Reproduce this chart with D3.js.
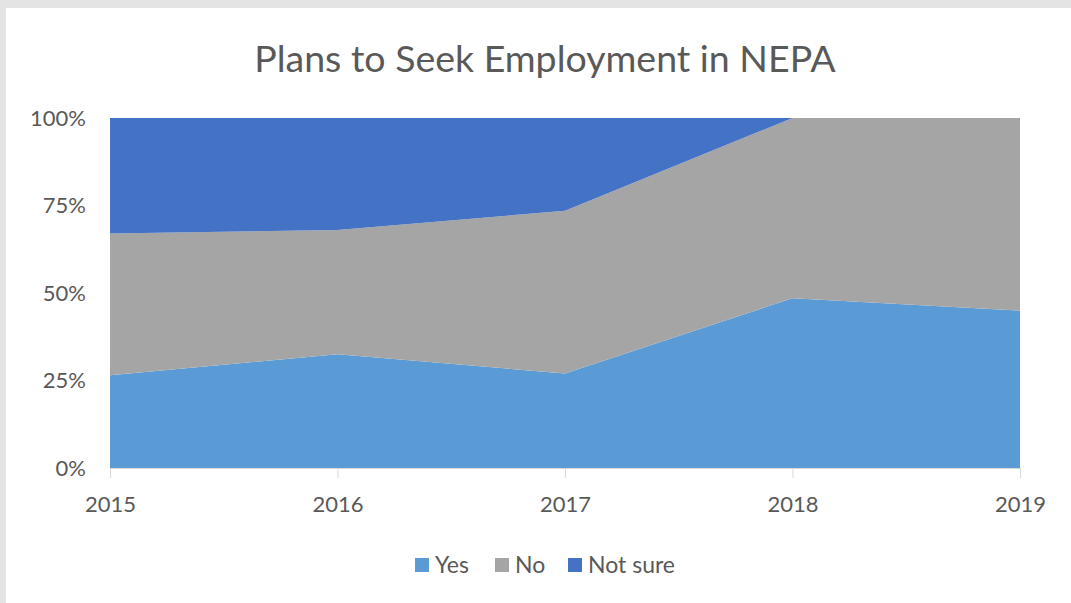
<!DOCTYPE html>
<html><head><meta charset="utf-8">
<script src="https://cdn.jsdelivr.net/npm/d3@7"></script>
<style>body{margin:0;background:#fff}svg{display:block}</style>
</head><body>
<svg id="c" width="1071" height="603"></svg>
<script>
const years = [2015, 2016, 2017, 2018, 2019];
const yesVals = [26.5, 32.5, 27, 48.5, 45];
const noVals = [40.5, 35.5, 46.5, 51.5, 55];
const notSureVals = [33, 32, 26.5, 0, 0];
const seriesNames = ["Yes", "No", "Not sure"];
const colors = ["#5B9BD5", "#A5A5A5", "#4472C4"];
const yTicks = [0, 25, 50, 75, 100];

const svg = d3.select("#c");
const font = "Lato, 'Open Sans', sans-serif";
svg.append("rect").attr("width",1071).attr("height",603).attr("fill","#e4e4e4");
svg.append("rect").attr("x",6).attr("y",8).attr("width",1071).attr("height",603).attr("fill","#fff");

const x = d3.scalePoint().domain(years).range([110, 1020]);
const y = d3.scaleLinear().domain([0, 100]).range([468, 118]);

const rows = years.map((yr,i)=>({year:yr, Yes:yesVals[i], No:noVals[i], "Not sure":notSureVals[i]}));
const stack = d3.stack().keys(seriesNames)(rows);
const area = d3.area().x(d=>x(d.data.year)).y0(d=>y(d[0])).y1(d=>y(d[1]));
svg.append("g").selectAll("path").data(stack).join("path")
  .attr("d", area).attr("fill",(d,i)=>colors[i]);

svg.append("text").attr("x",545).attr("y",72).attr("text-anchor","middle")
  .attr("font-family",font).attr("font-size",37.5).attr("fill","#595959")
  .text("Plans to Seek Employment in NEPA");

const yAxis = d3.axisLeft(y).tickValues(yTicks).tickFormat(d=>d+"%").tickSize(0).tickPadding(24);
const gy = svg.append("g").attr("transform","translate(110,0)").call(yAxis);
gy.select(".domain").remove();
gy.selectAll("text").attr("font-family",font).attr("font-size",22).attr("fill","#595959");

const xAxis = d3.axisBottom(x).tickSize(10).tickPadding(18);
const gx = svg.append("g").attr("transform","translate(0,468)").call(xAxis);
gx.select(".domain").attr("stroke","#d9d9d9").attr("d","M110,0.5H1020");
gx.selectAll(".tick line").attr("stroke","#d9d9d9");
gx.selectAll("text").attr("font-family",font).attr("font-size",22).attr("fill","#595959");

const legX = [415, 495, 568];
const leg = svg.append("g").selectAll("g").data(seriesNames).join("g")
  .attr("transform",(d,i)=>`translate(${legX[i]},565)`);
leg.append("rect").attr("x",0).attr("y",-7).attr("width",14).attr("height",14).attr("fill",(d,i)=>colors[i]);
leg.append("text").attr("x",20).attr("y",8).attr("font-family",font).attr("font-size",23).attr("fill","#595959").text(d=>d);
</script>
</body></html>
